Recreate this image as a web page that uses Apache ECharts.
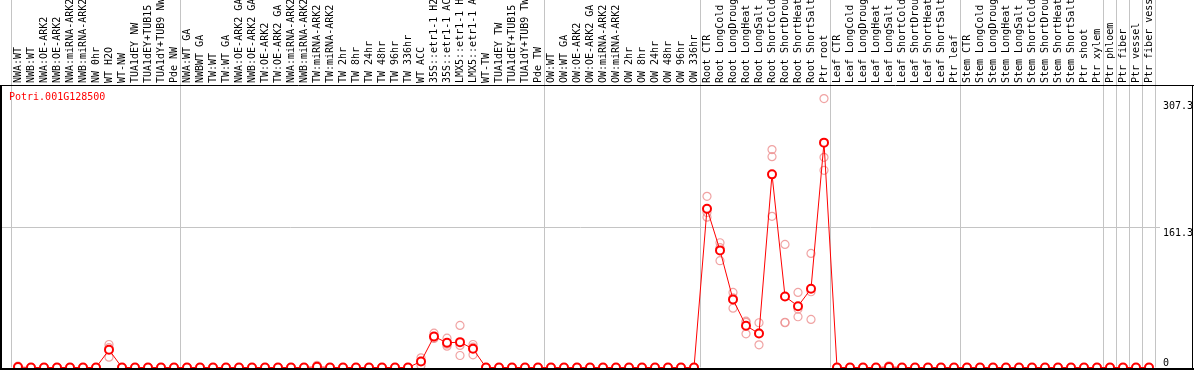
<!DOCTYPE html>
<html>
<head>
<meta charset="utf-8">
<style>html,body{margin:0;padding:0;background:#fff;overflow:hidden}</style>
</head>
<body>
<script src="https://cdn.jsdelivr.net/npm/echarts@6.0.0/dist/echarts.min.js"></script>
<div id="main" style="width:1194px;height:370px;"></div>
<script type="text/javascript">
var geneName = 'Potri.001G128500';

var categories = [
    'NWA:WT', 'NWB:WT', 'NWA:OE-ARK2', 'NWB:OE-ARK2', 'NWA:miRNA-ARK2', 'NWB:miRNA-ARK2', 'NW 0hr', 'WT H2O', 'WT-NW',
    'TUA1dEY NW', 'TUA1dEY+TUB15 NW', 'TUA1dY+TUB9 NW', 'Pde NW',
    'NWA:WT GA', 'NWBWT GA', 'TW:WT', 'TW:WT GA', 'NWA:OE-ARK2 GA', 'NWB:OE-ARK2 GA', 'TW:OE-ARK2', 'TW:OE-ARK2 GA',
    'NWA:miRNA-ARK2', 'NWB:miRNA-ARK2', 'TW:miRNA-ARK2', 'TW:miRNA-ARK2', 'TW 2hr', 'TW 8hr', 'TW 24hr', 'TW 48hr',
    'TW 96hr', 'TW 336hr', 'WT ACC', '35S::etr1-1 H2O', '35S::etr1-1 ACC', 'LMX5::etr1-1 H2O', 'LMX5::etr1-1 ACC',
    'WT-TW', 'TUA1dEY TW', 'TUA1dEY+TUB15 TW', 'TUA1dY+TUB9 TW', 'Pde TW',
    'OW:WT', 'OW:WT GA', 'OW:OE-ARK2', 'OW:OE-ARK2 GA', 'OW:miRNA-ARK2', 'OW:miRNA-ARK2', 'OW 2hr', 'OW 8hr',
    'OW 24hr', 'OW 48hr', 'OW 96hr', 'OW 336hr',
    'Root CTR', 'Root LongCold', 'Root LongDrought', 'Root LongHeat', 'Root LongSalt', 'Root ShortCold',
    'Root ShortDrought', 'Root ShortHeat', 'Root ShortSalt', 'Ptr root',
    'Leaf CTR', 'Leaf LongCold', 'Leaf LongDrought', 'Leaf LongHeat', 'Leaf LongSalt', 'Leaf ShortCold',
    'Leaf ShortDrought', 'Leaf ShortHeat', 'Leaf ShortSalt', 'Ptr leaf',
    'Stem CTR', 'Stem LongCold', 'Stem LongDrought', 'Stem LongHeat', 'Stem LongSalt', 'Stem ShortCold',
    'Stem ShortDrought', 'Stem ShortHeat', 'Stem ShortSalt', 'Ptr shoot', 'Ptr xylem',
    'Ptr phloem', 'Ptr fiber', 'Ptr vessel', 'Ptr fiber vessel'
];

// mean expression per sample
var means = [
    0.5, 0, 0, 0, 0, 0, 0, 20.4, 0, 0, 0, 0, 0,
    0, 0, 0, 0, 0, 0, 0, 0, 0, 0, 0.8, 0, 0, 0, 0, 0, 0, 0, 6.9, 35.7, 28.4, 29.2, 21.5, 0, 0, 0, 0, 0,
    0, 0, 0, 0, 0, 0, 0, 0, 0, 0, 0, 0,
    182.8, 134.8, 78.3, 48.0, 39.2, 222.3, 81.8, 70.6, 90.6, 258.8,
    0, 0, 0, 0, 0.7, 0, 0, 0, 0, 0,
    0, 0, 0, 0, 0, 0, 0, 0, 0, 0, 0, 0, 0, 0, 0
];

// replicates
var rep1 = [
    1.5, 0, 0, 0, 0, 0, 0, 26.5, 0, 0, 0, 0, 0,
    0, 0, 0, 0, 0, 0, 0, 0, 0, 0, 2.5, 0, 0, 0, 0, 0, 0, 0, 11.1, 39.5, 33.8, 48.4, 26.5, 0, 0, 0, 0, 0,
    0, 0, 0, 0, 0, 0, 0, 0, 0, 0, 0, 0,
    197, 143.6, 86.4, 53.3, 51.5, 250.8, 141.7, 86.4, 131.3, 309.5,
    0, 0, 0, 0, 2, 0, 0, 0, 0, 0,
    0, 0, 0, 0, 0, 0, 0, 0, 0, 0, 0, 0, 0, 0, 0
];
var rep2 = [
    0, 0, 0, 0, 0, 0, 0, 22.8, 0, 0, 0, 0, 0,
    0, 0, 0, 0, 0, 0, 0, 0, 0, 0, 0, 0, 0, 0, 0, 0, 0, 0, 7.3, 34.2, 26.8, 25.4, 23.4, 0, 0, 0, 0, 0,
    0, 0, 0, 0, 0, 0, 0, 0, 0, 0, 0, 0,
    178.4, 137.9, 80.2, 52, 40, 242.7, 52.1, 67.2, 87.2, 241.9,
    0, 0, 0, 0, 0, 0, 0, 0, 0, 0,
    0, 0, 0, 0, 0, 0, 0, 0, 0, 0, 0, 0, 0, 0, 0
];
var rep3 = [
    0, 0, 0, 0, 0, 0, 0, 11.9, 0, 0, 0, 0, 0,
    0, 0, 0, 0, 0, 0, 0, 0, 0, 0, 0, 0, 0, 0, 0, 0, 0, 0, 2.3, 33.4, 24.6, 13.8, 14.6, 0, 0, 0, 0, 0,
    0, 0, 0, 0, 0, 0, 0, 0, 0, 0, 0, 0,
    173, 122.9, 68.3, 38.8, 26.1, 174, 51.5, 58.4, 55.3, 227,
    0, 0, 0, 0, 0, 0, 0, 0, 0, 0,
    0, 0, 0, 0, 0, 0, 0, 0, 0, 0, 0, 0, 0, 0, 0
];

var yLabels = [0, 161.3, 307.3];
var groupStarts = [0, 13, 41, 53, 63, 73, 84, 85, 86, 87];

var mono = 'DejaVu Sans Mono';
var gray = '#c4c4c4';

var repPoints = [];
[rep1, rep2, rep3].forEach(function (rep) {
    rep.forEach(function (v, i) { repPoints.push([i, v]); });
});

function groupLine(index) {
    return groupStarts.indexOf(index) >= 0;
}

var myChart = echarts.init(document.getElementById('main'));
var option = {
    animation: false,
    title: {
        text: geneName,
        left: 9,
        top: 92,
        padding: 0,
        textStyle: { color: '#ff0000', fontFamily: mono, fontSize: 10, fontWeight: 'normal' }
    },
    grid: [
        { left: 11.5, width: 1144, top: 86, height: 281.5, outerBoundsMode: 'none', containLabel: false },
        { left: 11.5, width: 1144, top: 0, height: 85, outerBoundsMode: 'none', containLabel: false },
        { left: 1, width: 1159, top: 86, height: 281.5, outerBoundsMode: 'none', containLabel: false }
    ],
    xAxis: [
        {
            gridIndex: 0,
            type: 'category',
            position: 'top',
            data: categories,
            boundaryGap: true,
            axisLine: { show: false },
            axisTick: { show: false },
            axisLabel: {
                interval: 0,
                rotate: 90,
                margin: 3,
                color: '#000',
                fontFamily: mono,
                fontSize: 10
            },
            splitLine: { show: true, interval: groupLine, lineStyle: { color: gray, width: 1 } }
        },
        {
            gridIndex: 1,
            type: 'category',
            data: categories,
            boundaryGap: true,
            axisLine: { show: false },
            axisTick: { show: false },
            axisLabel: { show: false },
            splitLine: { show: true, interval: groupLine, lineStyle: { color: gray, width: 1 } }
        },
        { gridIndex: 2, type: 'value', min: 0, max: 1, show: false }
    ],
    yAxis: [
        { gridIndex: 0, type: 'value', min: 0, max: 324, show: false },
        { gridIndex: 1, type: 'value', min: 0, max: 1, show: false },
        {
            gridIndex: 2,
            type: 'value',
            position: 'right',
            min: 0,
            max: 324,
            interval: 161.3,
            axisLine: { show: false },
            axisTick: { show: false },
            splitLine: {
                show: true,
                lineStyle: { color: ['rgba(0,0,0,0)', gray, 'rgba(0,0,0,0)', 'rgba(0,0,0,0)'], width: 1 }
            },
            axisLabel: {
                customValues: yLabels,
                margin: 3,
                color: '#000',
                fontFamily: mono,
                fontSize: 10,
                formatter: function (v) {
                    return v === 0 ? '{lo|0}' : '{hi|' + v + '}';
                },
                rich: {
                    hi: { padding: [12, 0, 0, 0], fontFamily: mono, fontSize: 10, color: '#000' },
                    lo: { padding: [0, 0, 9, 0], fontFamily: mono, fontSize: 10, color: '#000' }
                }
            }
        }
    ],
    series: [
        {
            name: 'replicates',
            type: 'scatter',
            xAxisIndex: 0,
            yAxisIndex: 0,
            data: repPoints,
            symbol: 'circle',
            symbolSize: 8,
            z: 2,
            itemStyle: { color: 'rgba(0,0,0,0)', borderColor: '#ec8c8c', borderWidth: 1.2 }
        },
        {
            name: 'mean',
            type: 'line',
            xAxisIndex: 0,
            yAxisIndex: 0,
            data: means,
            symbol: 'emptyCircle',
            symbolSize: 8,
            showAllSymbol: true,
            z: 3,
            lineStyle: { color: '#ff0000', width: 1 },
            itemStyle: { color: '#ff0000', borderColor: '#e00000', borderWidth: 1.6 }
        }
    ],
    graphic: [
        { type: 'line', z: 100, shape: { x1: 0, y1: 85.5, x2: 1194, y2: 85.5 }, style: { stroke: '#000', lineWidth: 1 } },
        { type: 'line', z: 100, shape: { x1: 1, y1: 85, x2: 1, y2: 370 }, style: { stroke: '#000', lineWidth: 2 } },
        { type: 'line', z: 100, shape: { x1: 1192.5, y1: 85, x2: 1192.5, y2: 370 }, style: { stroke: '#000', lineWidth: 1 } },
        { type: 'line', z: 100, shape: { x1: 0, y1: 369, x2: 1194, y2: 369 }, style: { stroke: '#000', lineWidth: 2 } }
    ]
};

myChart.setOption(option);
</script>
</body>
</html>
